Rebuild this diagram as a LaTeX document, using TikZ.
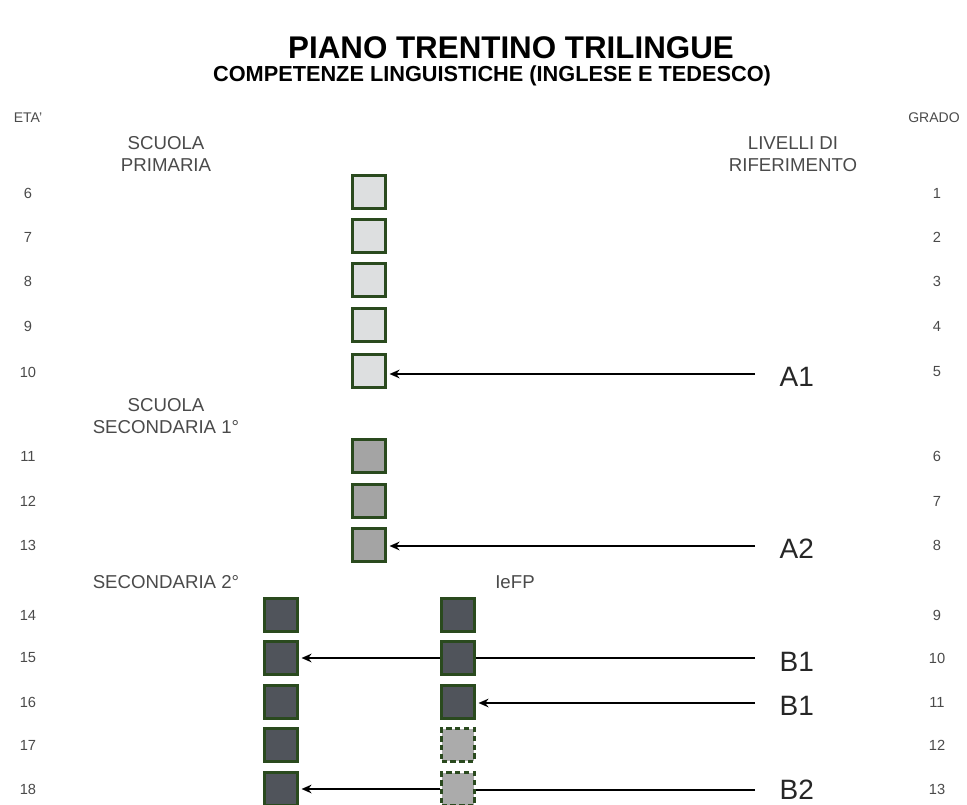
\documentclass[tikz,border=0pt]{standalone}
\usepackage{fontspec}
\setmainfont{Liberation Sans}
\usetikzlibrary{arrows.meta}

\definecolor{sqborder}{HTML}{2A4A1E}
\definecolor{sqlightfill}{HTML}{DDDFE0}
\definecolor{sqmidfill}{HTML}{A4A4A4}
\definecolor{sqdarkfill}{HTML}{50545B}
\definecolor{sqdashfill}{HTML}{ABABAB}
\definecolor{textgray}{HTML}{4A4A4A}

\begin{document}
\begin{tikzpicture}[
        x=0.75pt, y=-0.75pt,
        sq/.style={
            rectangle,
            minimum size=24.5pt,
            inner sep=0pt,
            draw=sqborder,
            line width=2.3pt
        },
        sqlight/.style={sq, fill=sqlightfill},
        sqmid/.style={sq, fill=sqmidfill},
        sqdark/.style={sq, fill=sqdarkfill},
        sqdash/.style={sq, fill=sqdashfill, dash pattern=on 4pt off 2.6pt},
        age/.style={text=textgray, font=\fontsize{11}{13}\selectfont},
        head/.style={text=textgray, font=\fontsize{10.5}{12}\selectfont},
        school/.style={text=textgray, align=center, font=\fontsize{14}{16.5}\selectfont},
        level/.style={text=black!85, font=\fontsize{21}{24}\selectfont},
        line/.style={line width=1.4pt},
        arrow/.style={line width=1.4pt, -{Stealth[length=7.5pt,width=6.5pt]}, shorten >=2pt}
    ]

    \useasboundingbox (0,0) rectangle (967,805);

    % Titles
    \node (title) at (511,48) {\fontsize{23.5}{28}\selectfont\bfseries PIANO TRENTINO TRILINGUE};
    \node (subtitle) at (492,76) {\fontsize{16.3}{19}\selectfont\bfseries COMPETENZE LINGUISTICHE (INGLESE E TEDESCO)};

    % Headers
    \node (eta) [head] at (28,118) {ETA'};
    \node (grado) [head] at (934,118) {GRADO};
    \node (primaria) [school] at (166,154) {SCUOLA\\PRIMARIA};
    \node (livelli) [school] at (793,154) {LIVELLI DI\\RIFERIMENTO};
    \node (sec1) [school] at (166,416) {SCUOLA\\SECONDARIA 1°};
    \node (sec2) [school] at (166,582) {SECONDARIA 2°};
    \node (iefp) [school] at (515,582) {IeFP};

    % Ages
    \node (e6) [age] at (28,193) {6};
    \node (e7) [age] at (28,237) {7};
    \node (e8) [age] at (28,281) {8};
    \node (e9) [age] at (28,326) {9};
    \node (e10) [age] at (28,372) {10};
    \node (e11) [age] at (28,456) {11};
    \node (e12) [age] at (28,501) {12};
    \node (e13) [age] at (28,545) {13};
    \node (e14) [age] at (28,615) {14};
    \node (e15) [age] at (28,658) {15};
    \node (e16) [age] at (28,702) {16};
    \node (e17) [age] at (28,745) {17};
    \node (e18) [age] at (28,789) {18};

    % Grades
    \node (g1) [age] at (937,193) {1};
    \node (g2) [age] at (937,237) {2};
    \node (g3) [age] at (937,281) {3};
    \node (g4) [age] at (937,326) {4};
    \node (g5) [age] at (937,372) {5};
    \node (g6) [age] at (937,456) {6};
    \node (g7) [age] at (937,501) {7};
    \node (g8) [age] at (937,545) {8};
    \node (g9) [age] at (937,615) {9};
    \node (g10) [age] at (937,658) {10};
    \node (g11) [age] at (937,702) {11};
    \node (g12) [age] at (937,745) {12};
    \node (g13) [age] at (937,789) {13};

    % Squares
    \node (s6) [sqlight] at (369,192) {};
    \node (s7) [sqlight] at (369,236) {};
    \node (s8) [sqlight] at (369,280) {};
    \node (s9) [sqlight] at (369,325) {};
    \node (s10) [sqlight] at (369,371) {};
    \node (s11) [sqmid] at (369,456) {};
    \node (s12) [sqmid] at (369,501) {};
    \node (s13) [sqmid] at (369,545) {};
    \node (s14l) [sqdark] at (281,615) {};
    \node (s15l) [sqdark] at (281,658) {};
    \node (s16l) [sqdark] at (281,702) {};
    \node (s17l) [sqdark] at (281,745) {};
    \node (s18l) [sqdark] at (281,789) {};
    \node (s14r) [sqdark] at (458,615) {};
    \node (s15r) [sqdark] at (458,658) {};
    \node (s16r) [sqdark] at (458,702) {};
    \node (s17r) [sqdash] at (458,745) {};
    \node (s18r) [sqdash] at (458,789) {};

    % Levels
    \node (a1) [level, anchor=west] at (775,377) {A1};
    \node (a2) [level, anchor=west] at (775,549) {A2};
    \node (b1a) [level, anchor=west] at (775,662) {B1};
    \node (b1b) [level, anchor=west] at (775,706) {B1};
    \node (b2) [level, anchor=west] at (775,790) {B2};

    \coordinate (a1s) at (755,374);
    \coordinate (a2s) at (755,546);
    \coordinate (b1as) at (755,658);
    \coordinate (b1bs) at (755,703);
    \coordinate (b2s) at (755,790);

    % Arrows
    \draw[arrow] (a1s) -- (a1s -| s10.east);
    \draw[arrow] (a2s) -- (a2s -| s13.east);
    \draw[line] (b1as) -- (b1as -| s15r.east);
    \draw[arrow] (s15r.west) -- (s15l.east);
    \draw[arrow] (b1bs) -- (b1bs -| s16r.east);
    \draw[line] (b2s) -- (b2s -| s18r.east);
    \draw[arrow] (s18r.west) -- (s18l.east);

\end{tikzpicture}
\end{document}
